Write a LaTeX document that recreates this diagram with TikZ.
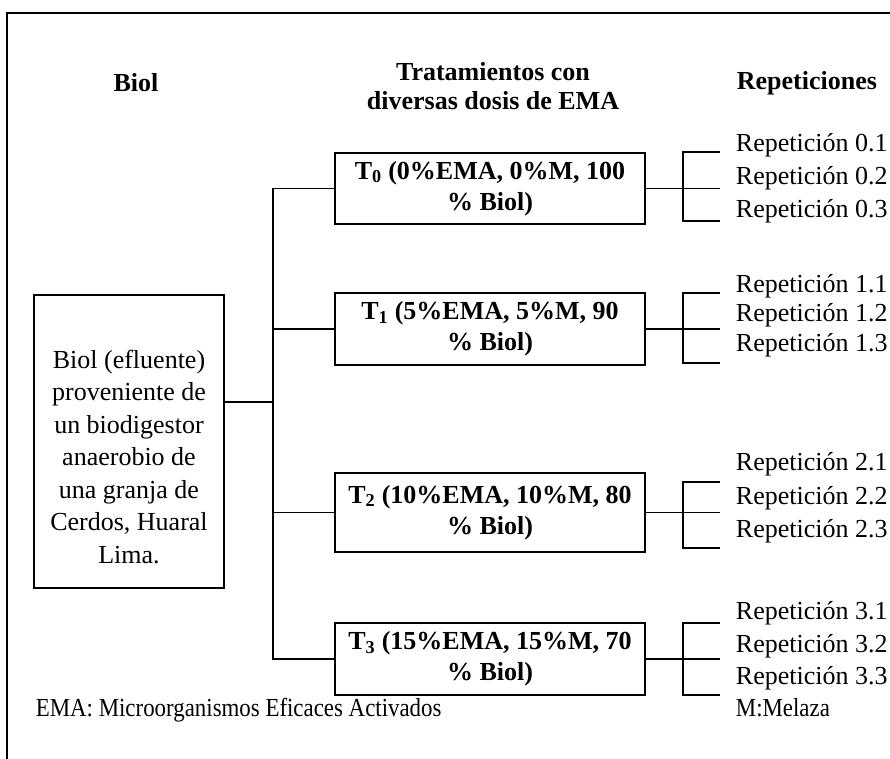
\documentclass[tikz,border=0pt]{standalone}
\usepackage{fontspec}
\setmainfont{Liberation Serif}
\newfontfamily\notefont[FakeStretch=0.88]{Liberation Serif}
\begin{document}
\begin{tikzpicture}[x=1pt,y=-1pt,line width=1.8pt,
  txt/.style={inner sep=0pt,font=\fontsize{26}{32.5}\selectfont},
  hdr/.style={inner sep=0pt,align=center,font=\fontsize{26}{29}\selectfont\bfseries},
  tbox/.style={draw,inner sep=0pt,minimum width=310pt,align=center,font=\fontsize{26}{31}\selectfont\bfseries},
  rep/.style={anchor=base west,inner sep=0pt,font=\fontsize{26}{30}\selectfont},
  note/.style={anchor=base west,inner sep=0pt,font=\notefont\fontsize{26}{30}\selectfont}]
\useasboundingbox (0,0) rectangle (890,759);
% frame
\coordinate (fl) at (7,759);
\coordinate (fc) at (7,13);
\coordinate (fr) at (890,13);
\draw (fl) -- (fc) -- (fr);
% headers
\node[hdr] (h1) at (136,83) {Biol};
\node[hdr] (h2) at (493,86) {Tratamientos con\\diversas dosis de EMA};
\node[hdr,anchor=west] (h3) at (736,83) {Repeticiones};
% source box
\node[draw,inner sep=0pt,minimum width=190pt,minimum height=293pt] (biol) at (129,441.5) {};
\node[txt,align=center] (biolt) at (129,457) {Biol (efluente)\\proveniente de\\un biodigestor\\anaerobio de\\una granja de\\Cerdos, Huaral\\Lima.};
% treatment boxes
\node[tbox,minimum height=71pt] (T0) at (490,188.5) {T\textsubscript{0} (0\%EMA, 0\%M, 100\\\% Biol)};
\node[tbox,minimum height=72pt] (T1) at (490,329) {T\textsubscript{1} (5\%EMA, 5\%M, 90\\\% Biol)};
\node[tbox,minimum height=79pt] (T2) at (490,512.5) {T\textsubscript{2} (10\%EMA, 10\%M, 80\\\% Biol)};
\node[tbox,minimum height=72pt] (T3) at (490,659) {T\textsubscript{3} (15\%EMA, 15\%M, 70\\\% Biol)};
% left tree
\coordinate (hub) at (273,402);
\draw (biol.east |- hub) -- (hub);
\draw (T0.west) -- (T0.west -| hub) -- (T3.west -| hub) -- (T3.west);
\draw (T1.west) -- (T1.west -| hub);
\draw (T2.west) -- (T2.west -| hub);
% brackets
\coordinate (b0t) at (720,152); \coordinate (b0b) at (720,221);
\coordinate (b1t) at (720,293); \coordinate (b1b) at (720,363);
\coordinate (b2t) at (720,482); \coordinate (b2b) at (720,548);
\coordinate (b3t) at (720,623); \coordinate (b3b) at (720,695);
\foreach \i in {0,1,2,3}{
  \draw (b\i t) -- ++(-37,0) |- (b\i b);
  \draw (T\i.east) -- (T\i.east -| b\i t);
}
% repetition labels
\node[rep] (r01) at (735,152) {Repetición 0.1};
\node[rep] (r02) at (735,185) {Repetición 0.2};
\node[rep] (r03) at (735,218) {Repetición 0.3};
\node[rep] (r11) at (735,292) {Repetición 1.1};
\node[rep] (r12) at (735,321) {Repetición 1.2};
\node[rep] (r13) at (735,351) {Repetición 1.3};
\node[rep] (r21) at (735,470) {Repetición 2.1};
\node[rep] (r22) at (735,504) {Repetición 2.2};
\node[rep] (r23) at (735,537) {Repetición 2.3};
\node[rep] (r31) at (735,619) {Repetición 3.1};
\node[rep] (r32) at (735,652) {Repetición 3.2};
\node[rep] (r33) at (735,684) {Repetición 3.3};
% notes
\node[note] (n1) at (35,716) {EMA: Microorganismos Eficaces Activados};
\node[note] (n2) at (735,716) {M:Melaza};
\end{tikzpicture}
\end{document}
